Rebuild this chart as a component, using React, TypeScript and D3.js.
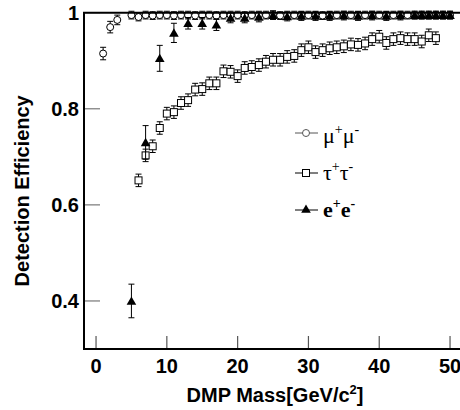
import React from "react";
import * as d3 from "d3";

const muMass = [1, 2, 3, 5, 6, 7, 8, 9, 10, 11, 12, 13, 14, 15, 16, 17, 18, 19, 20, 21, 22, 23, 24, 25, 26, 27, 28, 29, 30, 31, 32, 33, 34, 35, 36, 37, 38, 39, 40, 41, 42, 43, 44, 45, 46, 47, 48, 49, 50];
const muEff = [0.915, 0.97, 0.985, 0.995, 0.991, 0.995, 0.994, 0.995, 0.995, 0.994, 0.995, 0.995, 0.994, 0.995, 0.995, 0.994, 0.995, 0.995, 0.995, 0.994, 0.995, 0.995, 0.995, 0.995, 0.994, 0.995, 0.995, 0.995, 0.995, 0.995, 0.994, 0.995, 0.995, 0.995, 0.995, 0.995, 0.995, 0.995, 0.995, 0.995, 0.995, 0.995, 0.995, 0.995, 0.995, 0.995, 0.995, 0.995, 0.995];
const muErr = [0.013, 0.012, 0.01, 0.008, 0.008, 0.008, 0.008, 0.008, 0.008, 0.008, 0.008, 0.008, 0.008, 0.008, 0.008, 0.008, 0.008, 0.008, 0.008, 0.008, 0.008, 0.008, 0.008, 0.008, 0.008, 0.008, 0.008, 0.008, 0.008, 0.008, 0.008, 0.008, 0.008, 0.008, 0.008, 0.008, 0.008, 0.008, 0.008, 0.008, 0.008, 0.008, 0.008, 0.008, 0.008, 0.008, 0.008, 0.008, 0.008];

const tauMass = [6, 7, 8, 9, 10, 11, 12, 13, 14, 15, 16, 17, 18, 19, 20, 21, 22, 23, 24, 25, 26, 27, 28, 29, 30, 31, 32, 33, 34, 35, 36, 37, 38, 39, 40, 41, 42, 43, 44, 45, 46, 47, 48];
const tauEff = [0.651, 0.703, 0.722, 0.76, 0.79, 0.793, 0.812, 0.818, 0.84, 0.841, 0.853, 0.853, 0.878, 0.877, 0.868, 0.885, 0.887, 0.891, 0.898, 0.902, 0.902, 0.908, 0.91, 0.922, 0.928, 0.918, 0.922, 0.926, 0.928, 0.93, 0.934, 0.933, 0.936, 0.945, 0.95, 0.937, 0.945, 0.947, 0.945, 0.945, 0.94, 0.953, 0.947];
const tauErr = 0.013;

const eMass = [5, 7, 9, 11, 13, 15, 17, 19, 21, 23, 25, 27, 29, 31, 33, 35, 37, 39, 41, 43, 45, 46, 47, 48, 49, 50];
const eEff = [0.40, 0.73, 0.905, 0.958, 0.978, 0.978, 0.975, 0.989, 0.989, 0.991, 0.995, 0.992, 0.993, 0.993, 0.993, 0.994, 0.993, 0.994, 0.993, 0.994, 0.995, 0.995, 0.995, 0.995, 0.995, 0.995];
const eErr = [0.035, 0.035, 0.027, 0.02, 0.012, 0.012, 0.012, 0.01, 0.01, 0.01, 0.009, 0.009, 0.009, 0.009, 0.009, 0.009, 0.009, 0.009, 0.009, 0.009, 0.008, 0.008, 0.008, 0.008, 0.008, 0.008];

const xTicks = [0, 10, 20, 30, 40, 50];
const yTicks = [0.4, 0.6, 0.8, 1];
const yTickLabels = ["0.4", "0.6", "0.8", "1"];

const W = 460;
const H = 410;

export default function App() {
  const x = d3.scaleLinear().domain([-1.7, 52.5]).range([84, 84 + 54.2 * 7.08]);
  const y = d3.scaleLinear().domain([0.3, 1.0]).range([349, 12.7]);
  const left = x(-1.7);
  const bottom = y(0.3);
  const top = y(1.0);
  const right = x(52.5);
  const cap = 3;
  const font = "Arial, 'Liberation Sans', sans-serif";
  const serif = "'Liberation Serif', 'Times New Roman', serif";

  const errBar = (mx: number, v: number, e: number, key: string) => (
    <g key={key} stroke="#000" strokeWidth={1}>
      <line x1={x(mx)} x2={x(mx)} y1={y(v + e)} y2={y(v - e)} />
      <line x1={x(mx) - cap} x2={x(mx) + cap} y1={y(v + e)} y2={y(v + e)} />
      <line x1={x(mx) - cap} x2={x(mx) + cap} y1={y(v - e)} y2={y(v - e)} />
    </g>
  );

  const tri = d3.symbol().type(d3.symbolTriangle).size(40)();

  return (
    <svg width={W} height={H} style={{ position: "absolute", left: 0, top: 0, background: "#fff" }}>
      <rect x={0} y={0} width={W} height={H} fill="#fff" />
      {/* ticks */}
      {yTicks.map((t) => (
        <line key={"yt" + t} x1={left} x2={left + 16} y1={y(t)} y2={y(t)} stroke="#777" strokeWidth={1.2} />
      ))}
      {xTicks.map((t) => (
        <line key={"xt" + t} x1={x(t)} x2={x(t)} y1={bottom} y2={bottom - 13} stroke="#555" strokeWidth={1.2} />
      ))}
      {/* data: tau */}
      {tauMass.map((m, i) => (
        <g key={"tau" + m}>
          {errBar(m, tauEff[i], tauErr, "te" + m)}
          <rect x={x(m) - 3.5} y={y(tauEff[i]) - 3.5} width={7} height={7} fill="#fff" stroke="#000" strokeWidth={1} />
        </g>
      ))}
      {/* data: mu */}
      {muMass.map((m, i) => (
        <g key={"mu" + m}>
          {errBar(m, muEff[i], muErr[i], "me" + m)}
          <circle cx={x(m)} cy={y(muEff[i])} r={3.5} fill="#fff" stroke="#000" strokeWidth={1} />
        </g>
      ))}
      {/* data: e */}
      {eMass.map((m, i) => (
        <g key={"e" + m}>
          {errBar(m, eEff[i], eErr[i], "ee" + m)}
          <path d={tri as string} transform={`translate(${x(m)},${y(eEff[i]) + 1})`} fill="#000" />
        </g>
      ))}
      {/* spines */}
      <line x1={left} x2={left} y1={top} y2={bottom + 1} stroke="#000" strokeWidth={2} />
      <line x1={left - 1} x2={right} y1={bottom} y2={bottom} stroke="#000" strokeWidth={2} />
      <line x1={left - 1} x2={right} y1={top} y2={top} stroke="#000" strokeWidth={2} />
      {/* tick labels */}
      {yTicks.map((t, i) => (
        <text key={"yl" + t} x={left - 5} y={y(t) + 7} textAnchor="end" fontFamily={font} fontWeight="bold" fontSize={20} fill="#000">
          {yTickLabels[i]}
        </text>
      ))}
      {xTicks.map((t) => (
        <text key={"xl" + t} x={x(t)} y={bottom + 24} textAnchor="middle" fontFamily={font} fontWeight="bold" fontSize={20} fill="#000">
          {t}
        </text>
      ))}
      {/* axis titles */}
      <text x={275} y={402} textAnchor="middle" fontFamily={font} fontWeight="bold" fontSize={20} fill="#000">
        DMP Mass[GeV/c<tspan dy={-8} fontSize={13}>2</tspan><tspan dy={8}>]</tspan>
      </text>
      <text transform={`translate(29,${(top + bottom) / 2 + 10}) rotate(-90)`} textAnchor="middle" fontFamily={font} fontWeight="bold" fontSize={20} fill="#000">
        Detection Efficiency
      </text>
      {/* legend */}
      <g>
        <line x1={295} x2={318} y1={133} y2={133} stroke="#555" strokeWidth={1} />
        <circle cx={306} cy={133} r={3.5} fill="#fff" stroke="#555" strokeWidth={1} />
        <text x={323} y={143} fontFamily={serif} fontSize={22} fill="#000">
          μ<tspan dy={-9} fontSize={14}>+</tspan><tspan dy={9}>μ</tspan><tspan dy={-9} fontSize={14}>-</tspan>
        </text>
        <line x1={295} x2={318} y1={173} y2={173} stroke="#000" strokeWidth={1} />
        <rect x={302.5} y={169.5} width={7} height={7} fill="#fff" stroke="#000" strokeWidth={1} />
        <text x={323} y={180} fontFamily={serif} fontSize={22} fill="#000">
          τ<tspan dy={-9} fontSize={14}>+</tspan><tspan dy={9}>τ</tspan><tspan dy={-9} fontSize={14}>-</tspan>
        </text>
        <line x1={295} x2={318} y1={210} y2={210} stroke="#000" strokeWidth={1} />
        <path d={tri as string} transform={`translate(306,210)`} fill="#000" />
        <text x={323} y={217} fontFamily={serif} fontWeight="bold" fontSize={22} fill="#000">
          e<tspan dy={-9} fontSize={14}>+</tspan><tspan dy={9}>e</tspan><tspan dy={-9} fontSize={14}>-</tspan>
        </text>
      </g>
    </svg>
  );
}
